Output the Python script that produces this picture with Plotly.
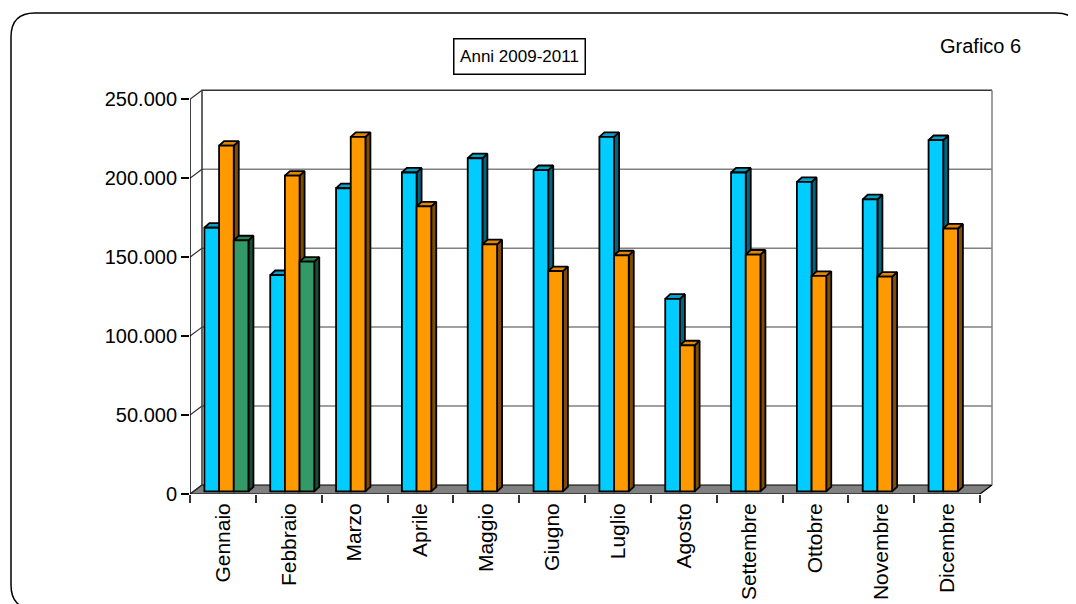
import plotly.graph_objects as go

# Dati (valori mensili, anni 2009-2011)
mesi = ["Gennaio", "Febbraio", "Marzo", "Aprile", "Maggio", "Giugno",
        "Luglio", "Agosto", "Settembre", "Ottobre", "Novembre", "Dicembre"]
anno_2009 = [167000, 137000, 192000, 202000, 211000, 203500,
             224500, 122000, 202000, 196000, 185000, 222500]
anno_2010 = [219000, 200000, 224500, 180500, 156500, 139500,
             149500, 92500, 150000, 136500, 136000, 166500]
anno_2011 = [159000, 145500, None, None, None, None,
             None, None, None, None, None, None]
y_ticks = [0, 50000, 100000, 150000, 200000, 250000]

serie = [
    (anno_2009, "#00CCFF", "#00A3CC", "#006680"),
    (anno_2010, "#FF9900", "#E08600", "#7F4C00"),
    (anno_2011, "#339966", "#2A7F55", "#1A4D33"),
]

# Geometria in pixel (coordinate della pagina); la pagina ha 8 px di margine
OFF = 8
W, H = 1076, 604
L, R, T, B = 190, 1000, 80, 494
CAT = (980 - 190) / 12          # pixel per categoria
YPP = 250000 / 394.7            # valore per pixel
n = len(mesi)

WX, WY = 12 / CAT, 9 * YPP      # profondita' delle pareti
PX, PY = 3.5 / CAT, 2.6 * YPP   # piano delle barre
DX, DY = 5 / CAT, 4.6 * YPP     # profondita' delle barre
BW = 0.223
G0 = (1 - 3 * BW) / 2
ymax = 250000
LW = 1.8                        # spessore dei contorni delle barre


def paper_x(px):
    return (px - L) / (R - L)


def paper_y(py):
    return (B - py) / (B - T)


fig = go.Figure()


def linea(xs, ys, color, width=1.5):
    fig.add_trace(go.Scatter(x=xs, y=ys, mode="lines", hoverinfo="skip",
                             line=dict(color=color, width=width), showlegend=False))


# Pavimento
fig.add_trace(go.Scatter(x=[0, n, n + WX, WX, 0], y=[0, 0, WY, WY, 0],
                         mode="lines", fill="toself", fillcolor="#808080",
                         line=dict(color="#000000", width=1.2),
                         hoverinfo="skip", showlegend=False))

# Griglia sulla parete di fondo e sulla parete sinistra
gx, gy, dx_, dy_ = [], [], [], []
for v in y_ticks[1:-1]:
    gx += [WX, n + WX, None]
    gy += [v + WY, v + WY, None]
for v in y_ticks:
    dx_ += [0, WX, None]
    dy_ += [v, v + WY, None]
linea(gx, gy, "#808080")
linea(dx_, dy_, "#333333", 1.2)
linea([WX, WX, n + WX], [WY, ymax + WY, ymax + WY], "#333333")
linea([n + WX, n + WX], [WY, ymax + WY], "#808080")
linea([0, 0], [0, ymax], "#000000")

# Facce laterali e superiori delle barre
for k, (vals, c_front, c_top, c_side) in enumerate(serie):
    sx, sy, tx, ty = [], [], [], []
    for i, v in enumerate(vals):
        if v is None:
            continue
        l = i + PX + G0 + k * BW
        r = l + BW
        b = PY
        t = PY + v
        sx += [r, r + DX, r + DX, r, r, None]
        sy += [b, b + DY, t + DY, t, b, None]
        tx += [l, r, r + DX, l + DX, l, None]
        ty += [t, t, t + DY, t + DY, t, None]
    fig.add_trace(go.Scatter(x=sx, y=sy, mode="lines", fill="toself", fillcolor=c_side,
                             line=dict(color="#000000", width=LW),
                             hoverinfo="skip", showlegend=False))
    fig.add_trace(go.Scatter(x=tx, y=ty, mode="lines", fill="toself", fillcolor=c_top,
                             line=dict(color="#000000", width=LW),
                             hoverinfo="skip", showlegend=False))

# Facce frontali (barre vere) su assi sovrapposti
for k, (vals, c_front, c_top, c_side) in enumerate(serie):
    fig.add_trace(go.Bar(
        x=[i + PX + G0 + k * BW for i in range(n)], y=vals, base=PY,
        width=BW, offset=0, marker=dict(color=c_front, line=dict(color="#000000", width=LW)),
        xaxis="x2", yaxis="y2", showlegend=False,
    ))

xr = [0, (R - L) / CAT]
yr = [0, (B - T) * YPP]
font = dict(family="Liberation Sans, Arial, sans-serif", size=20, color="#000000")
font_mesi = dict(family="Liberation Sans, Arial, sans-serif", size=21, color="#000000")

fig.update_layout(
    width=W - OFF, height=H - OFF,
    margin=dict(l=L - OFF, r=W - R, t=T - OFF, b=H - B, autoexpand=False),
    paper_bgcolor="white", plot_bgcolor="white",
    separators=",.",
    barmode="overlay",
    font=font,
    xaxis=dict(range=xr, showgrid=False, zeroline=False, showline=False,
               tickvals=[i + 0.5 for i in range(n)], ticktext=mesi,
               tickangle=-90, ticks="", ticklabelstandoff=4, tickfont=font_mesi,
               minor=dict(tickmode="array", tickvals=list(range(n + 1)), ticks="outside",
                          ticklen=8, tickwidth=1.5, tickcolor="#333333"),
               automargin=False, fixedrange=True),
    yaxis=dict(range=yr, showgrid=False, zeroline=False, showline=False,
               tickvals=y_ticks, tickformat=",d", ticks="outside", ticklen=8,
               tickwidth=1.5, tickcolor="#000000", tickfont=font,
               automargin=False, fixedrange=True),
    xaxis2=dict(range=xr, overlaying="x", visible=False, fixedrange=True),
    yaxis2=dict(range=yr, overlaying="y", visible=False, fixedrange=True),
)

# Titolo incorniciato e etichetta del grafico
fig.add_annotation(text="Anni 2009-2011", xref="paper", yref="paper",
                   x=paper_x(519), y=paper_y(57), xanchor="center", yanchor="middle",
                   showarrow=False,
                   font=dict(family="Liberation Sans, Arial, sans-serif", size=17, color="#000000"),
                   bordercolor="#000000", borderwidth=1.5, borderpad=1,
                   bgcolor="white", width=128, height=32)
fig.add_annotation(text="Grafico 6", xref="paper", yref="paper",
                   x=paper_x(980), y=paper_y(46), xanchor="center", yanchor="middle",
                   showarrow=False, font=font)

# Cornice arrotondata
x0, y0, x1, y1, rr = 11, 13, 1080, 609, 24
pts = [("M", x0 + rr, y0), ("L", x1 - rr, y0), ("Q", x1, y0, x1, y0 + rr),
       ("L", x1, y1 - rr), ("Q", x1, y1, x1 - rr, y1), ("L", x0 + rr, y1),
       ("Q", x0, y1, x0, y1 - rr), ("L", x0, y0 + rr), ("Q", x0, y0, x0 + rr, y0)]
path = ""
for p in pts:
    cmd, coords = p[0], p[1:]
    xy = []
    for j in range(0, len(coords), 2):
        xy.append(f"{paper_x(coords[j]):.5f},{paper_y(coords[j + 1]):.5f}")
    path += cmd + " ".join(xy) + " "
fig.add_shape(type="path", path=path + "Z", xref="paper", yref="paper",
              line=dict(color="#000000", width=1.5), layer="below")

fig.write_html("out.html")
